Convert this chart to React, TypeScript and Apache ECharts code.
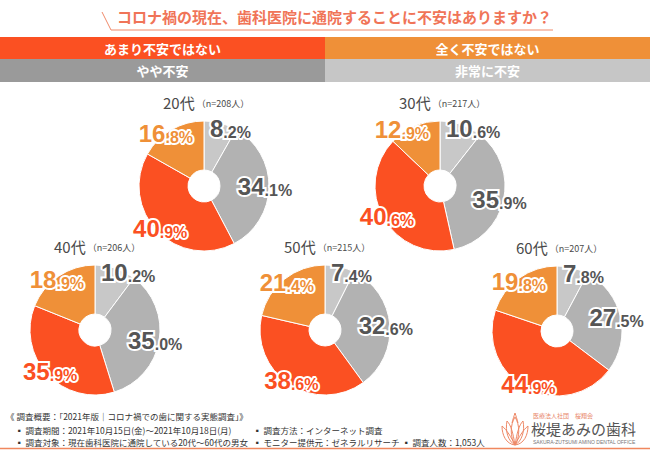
import React, { useEffect, useRef } from "react";
import * as echarts from "echarts";

// ---- data ----
const AGES = ["20代", "30代", "40代", "50代", "60代"];
const SAMPLE_SIZES = [208, 217, 206, 215, 207];
const CATEGORIES = ["非常に不安", "やや不安", "あまり不安ではない", "全く不安ではない"];
const VERY_ANXIOUS = [8.2, 10.6, 10.2, 7.4, 7.8];
const SOMEWHAT_ANXIOUS = [34.1, 35.9, 35.0, 32.6, 27.5];
const NOT_VERY_ANXIOUS = [40.9, 40.6, 35.9, 38.6, 44.9];
const NOT_AT_ALL_ANXIOUS = [16.8, 12.9, 18.9, 21.4, 19.8];
const TITLE = "コロナ禍の現在、歯科医院に通院することに不安はありますか？";
const FOOTER_LINES = [
  "《 調査概要：「2021年版｜コロナ禍での歯に関する実態調査」》",
  "▪ 調査期間：2021年10月15日(金)～2021年10月18日(月)",
  "▪ 調査方法：インターネット調査",
  "▪ 調査対象：現在歯科医院に通院している20代～60代の男女",
  "▪ モニター提供元：ゼネラルリサーチ",
  "▪ 調査人数：1,053人",
];

// ---- layout / style ----
const CENTERS: [number, number][] = [
  [204, 186],
  [440, 186],
  [95, 330],
  [325, 330],
  [557, 331],
];
const PIE_COLORS = ["#c8c8c8", "#b2b2b2", "#fb5022", "#ef9038"];
const LABEL_COLORS = ["#555555", "#555555", "#fb5022", "#ef9038"];
const JP = '"Noto Sans CJK JP", sans-serif';
const NUM = '"Liberation Sans", Arial, sans-serif';

const LOGO_D =
  "M13,32 C8,24 8,12 13,4 C18,12 18,24 13,32 Z " +
  "M13,32 C6,28 3,18 5,8 C9,12 11,20 13,32 " +
  "M13,32 C20,28 23,18 21,8 C17,12 15,20 13,32 " +
  "M13,32 C4,31 0,22 0,13 C5,17 9,24 13,32 " +
  "M13,32 C22,31 26,22 26,13 C21,17 17,24 13,32 " +
  "M10,10 C11,6 12,3 13,0 C14,3 15,6 16,10";

let logoRegistered = false;
function registerLogo() {
  if (logoRegistered) return;
  echarts.graphic.registerShape("logo", echarts.graphic.extendPath(LOGO_D, {}));
  logoRegistered = true;
}

function buildOption() {
  const byAge = AGES.map((_, i) => [
    VERY_ANXIOUS[i],
    SOMEWHAT_ANXIOUS[i],
    NOT_VERY_ANXIOUS[i],
    NOT_AT_ALL_ANXIOUS[i],
  ]);

  const rich: Record<string, any> = {};
  LABEL_COLORS.forEach((c, k) => {
    rich["i" + k] = {
      fontSize: 24,
      fontWeight: "bold",
      fontFamily: NUM,
      color: c,
      textBorderColor: "#ffffff",
      textBorderWidth: 4,
      verticalAlign: "bottom",
    };
    rich["d" + k] = {
      fontSize: 16,
      fontWeight: "bold",
      fontFamily: NUM,
      color: c,
      textBorderColor: "#ffffff",
      textBorderWidth: 4,
      verticalAlign: "bottom",
    };
  });

  const labelLayout = (p: any) => {
    const r = p.rect;
    const l = p.labelRect;
    if (!r || !l) return {};
    if (p.dataIndex === 0) {
      // first slice label sits just right of 12 o'clock, near the rim
      return { dx: r.x + 4 - l.x, dy: r.y + 18 - (l.y + l.height / 2) };
    }
    if (p.dataIndex === 3) {
      // last slice label ends just left of 12 o'clock
      return { dx: r.x + r.width - 9 - (l.x + l.width) };
    }
    return {};
  };

  const series: any[] = [];
  byAge.forEach((vals, i) => {
    series.push({
      type: "pie",
      center: CENTERS[i],
      radius: [16, 65],
      startAngle: 90,
      clockwise: true,
      silent: true,
      label: { show: false },
      labelLine: { show: false },
      itemStyle: { borderColor: "#ffffff", borderWidth: 1 },
      emphasis: { disabled: true },
      data: vals.map((v, k) => ({
        value: v,
        name: CATEGORIES[k],
        itemStyle: { color: PIE_COLORS[k] },
      })),
    });
    series.push({
      type: "pie",
      center: CENTERS[i],
      radius: [40, 76],
      startAngle: 90,
      clockwise: true,
      silent: true,
      avoidLabelOverlap: false,
      minShowLabelAngle: 0,
      itemStyle: { color: "rgba(0,0,0,0)", borderWidth: 0 },
      labelLine: { show: false },
      labelLayout,
      emphasis: { disabled: true },
      label: {
        show: true,
        position: "inside",
        overflow: "none",
        rich,
        formatter: (p: any) => {
          const s = Number(p.value).toFixed(1);
          const [a, b] = s.split(".");
          const k = p.dataIndex;
          return `{i${k}|${a}}{d${k}|.${b}%}`;
        },
      },
      data: vals.map((v, k) => ({ value: v, name: CATEGORIES[k] })),
    });
  });

  const graphics: any[] = [];
  // title
  graphics.push({
    type: "text",
    x: 117,
    y: 16,
    style: {
      text: TITLE,
      fill: "#f07458",
      fontSize: 15,
      fontWeight: "bold",
      fontFamily: JP,
      align: "left",
      verticalAlign: "middle",
    },
  });
  graphics.push({
    type: "polyline",
    shape: { points: [[102, 12], [111, 30], [553, 30]] },
    style: { stroke: "#f08a6a", lineWidth: 1, fill: null },
  });
  // legend bars
  const legendRects = [
    { x: 0, y: 37, w: 325, h: 22, fill: "#fb5022", text: CATEGORIES[2] },
    { x: 325, y: 37, w: 325, h: 22, fill: "#ef9038", text: CATEGORIES[3] },
    { x: 0, y: 59, w: 325, h: 23, fill: "#9a9a9a", text: CATEGORIES[1] },
    { x: 325, y: 59, w: 325, h: 23, fill: "#c6c6c6", text: CATEGORIES[0] },
  ];
  legendRects.forEach((r) => {
    graphics.push({
      type: "rect",
      shape: { x: r.x, y: r.y, width: r.w, height: r.h },
      style: { fill: r.fill },
    });
    graphics.push({
      type: "text",
      x: r.x + r.w / 2,
      y: r.y + r.h / 2,
      style: {
        text: r.text,
        fill: "#ffffff",
        fontSize: 13,
        fontWeight: "bold",
        fontFamily: JP,
        align: "center",
        verticalAlign: "middle",
      },
    });
  });
  // age titles
  AGES.forEach((age, i) => {
    graphics.push({
      type: "text",
      x: CENTERS[i][0] - 41,
      y: CENTERS[i][1] - 84,
      style: {
        text: `{a|${age}}{b| （n=${SAMPLE_SIZES[i]}人）}`,
        verticalAlign: "middle",
        align: "left",
        rich: {
          a: { fontSize: 15, fontFamily: JP, fill: "#4a4a4a", verticalAlign: "bottom" },
          b: { fontSize: 9, fontFamily: JP, fill: "#4a4a4a", verticalAlign: "bottom", padding: [0, 0, 2, 0] },
        },
      },
    });
  });
  // footer
  const footerPos: [number, number][] = [
    [6, 416],
    [15, 430],
    [253, 430],
    [15, 442],
    [253, 442],
    [402, 442],
  ];
  FOOTER_LINES.forEach((t, i) => {
    graphics.push({
      type: "text",
      x: footerPos[i][0],
      y: footerPos[i][1],
      style: {
        text: t,
        fill: "#333333",
        fontSize: 8.5,
        fontFamily: JP,
        align: "left",
        verticalAlign: "middle",
      },
    });
  });
  // logo
  graphics.push({
    type: "logo",
    x: 502,
    y: 413,
    style: { fill: null, stroke: "#ee8866", lineWidth: 1 },
  });
  graphics.push({
    type: "text",
    x: 533,
    y: 415,
    style: {
      text: "医療法人社団　桜翔会",
      fill: "#e8866a",
      fontSize: 6,
      fontFamily: JP,
      verticalAlign: "middle",
    },
  });
  graphics.push({
    type: "text",
    x: 531,
    y: 428.5,
    style: {
      text: "桜堤あみの歯科",
      fill: "#555555",
      fontSize: 15,
      fontFamily: JP,
      verticalAlign: "middle",
    },
  });
  graphics.push({
    type: "text",
    x: 533,
    y: 442,
    style: {
      text: "SAKURA-ZUTSUMI AMINO DENTAL OFFICE",
      fill: "#777777",
      fontSize: 5,
      fontFamily: NUM,
      verticalAlign: "middle",
    },
  });
  graphics.push({
    type: "line",
    shape: { x1: 0, y1: 448.5, x2: 650, y2: 448.5 },
    style: { stroke: "#f0875e", lineWidth: 1.5 },
  });

  return {
    animation: false,
    backgroundColor: "#ffffff",
    series,
    graphic: { elements: graphics },
  };
}

export default function App() {
  const ref = useRef<HTMLDivElement>(null);
  useEffect(() => {
    document.body.style.margin = "0";
    registerLogo();
    if (!ref.current) return;
    const chart = echarts.init(ref.current, undefined, { renderer: "svg" });
    chart.setOption(buildOption() as any);
    return () => chart.dispose();
  }, []);
  return <div ref={ref} style={{ width: 650, height: 450 }} />;
}
